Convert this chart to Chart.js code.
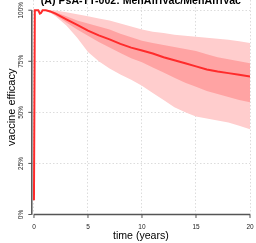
<!DOCTYPE html>
<html lang="en">
<head>
<meta charset="UTF-8">
<title>Vaccine efficacy - PsA-TT-002</title>
<script src="https://cdn.jsdelivr.net/npm/chart.js"></script>
<style>
  html, body { margin: 0; padding: 0; background: #fff; }
  #wrap { position: relative; width: 256px; height: 243px; }
</style>
</head>
<body>
<div id="wrap"><canvas id="chart"></canvas></div>
<script>
// values
const years   = [0, 0.08, 0.4, 0.55, 0.65, 0.8, 1.1, 1.5, 2, 3, 4, 5, 6, 7, 8, 9, 10, 11, 12, 13, 14, 15, 16, 17, 18, 19, 20];
const median  = [7, 100, 100, 98.3, 98.6, 100, 100, 99.4, 98.3, 95.5, 92.8, 90, 87.7, 85.7, 83.5, 81.7, 80.3, 78.8, 77, 75.5, 74, 72.5, 71, 70, 69.2, 68.4, 67.6];
const innerHi = [null, 100, 100, 98.3, 98.6, 100, 100, 99.8, 99, 97, 95, 93.5, 92, 90.5, 88.5, 86.8, 85, 84, 83, 82, 81, 80, 78.5, 77, 76, 75, 74];
const innerLo = [null, 100, 100, 98.3, 98.6, 100, 100, 99, 97.5, 94, 90.5, 87.5, 84.5, 81.8, 79, 76.5, 74.5, 72, 69.5, 67, 64.5, 62.5, 60.5, 59, 57.5, 56, 55];
const outerHi = [null, 100, 100, 98.3, 98.6, 100, 100, 100, 99.8, 99, 98, 97, 96, 95, 93.5, 92, 90.5, 89.5, 88.8, 88, 87.5, 87, 86.5, 86, 85.5, 84.8, 84];
const outerLo = [null, 100, 100, 98.3, 98.6, 100, 100, 98.8, 97, 92.5, 86.5, 79.5, 75, 71.5, 68.5, 66, 63, 59.5, 56, 52.5, 50, 48, 47, 46, 45, 43.5, 41.7];

const xTicks = [0, 5, 10, 15, 20];
const yTicks = [0, 25, 50, 75, 100];
const yTickLabels = ['0%', '25%', '50%', '75%', '100%'];
const chartTitle = '(A) PsA-TT-002: MenAfriVac/MenAfriVac';

function pts(vals) {
    return years.map((t, i) => ({ x: t, y: vals[i] }));
}

// R-style axes: lines only between first and last tick, small tick marks, rotated y labels
const rAxes = {
    id: 'rAxes',
    afterDraw(chart) {
        const { ctx, chartArea, scales: { x, y } } = chart;
        const ax = chartArea.left;
        const ay = chartArea.bottom;
        ctx.save();
        ctx.strokeStyle = '#555';
        ctx.lineWidth = 1.5;
        ctx.beginPath();
        ctx.moveTo(ax, y.getPixelForValue(yTicks[0]));
        ctx.lineTo(ax, y.getPixelForValue(yTicks[yTicks.length - 1]));
        ctx.moveTo(x.getPixelForValue(xTicks[0]), ay);
        ctx.lineTo(x.getPixelForValue(xTicks[xTicks.length - 1]), ay);
        ctx.stroke();

        ctx.lineWidth = 1;
        ctx.beginPath();
        yTicks.forEach(v => {
            const py = y.getPixelForValue(v);
            ctx.moveTo(ax, py);
            ctx.lineTo(ax - 3.5, py);
        });
        xTicks.forEach(v => {
            const px = x.getPixelForValue(v);
            ctx.moveTo(px, ay);
            ctx.lineTo(px, ay + 3.5);
        });
        ctx.stroke();

        ctx.fillStyle = '#222';
        ctx.font = '6.5px "Liberation Sans", Arial, sans-serif';
        ctx.textAlign = 'center';
        ctx.textBaseline = 'middle';
        xTicks.forEach(v => {
            ctx.fillText(String(v), x.getPixelForValue(v), ay + 13);
        });
        yTicks.forEach((v, i) => {
            ctx.save();
            ctx.translate(ax - 11, y.getPixelForValue(v));
            ctx.rotate(-Math.PI / 2);
            ctx.fillText(yTickLabels[i], 0, 0);
            ctx.restore();
        });

        // title sits partly above the canvas in the reference
        ctx.fillStyle = '#000';
        ctx.font = 'bold 10.6px "Liberation Sans", Arial, sans-serif';
        ctx.textBaseline = 'alphabetic';
        ctx.fillText(chartTitle, (chartArea.left + chartArea.right) / 2, 4);
        ctx.restore();
    }
};

const ctx = document.getElementById('chart').getContext('2d');
new Chart(ctx, {
    type: 'line',
    data: {
        datasets: [
            { label: 'outer hi', data: pts(outerHi), fill: '+1', backgroundColor: '#ffcdcd', borderWidth: 0, pointRadius: 0, order: 4 },
            { label: 'outer lo', data: pts(outerLo), fill: false, borderWidth: 0, pointRadius: 0, order: 4 },
            { label: 'inner hi', data: pts(innerHi), fill: '+1', backgroundColor: '#ffa3a3', borderWidth: 0, pointRadius: 0, order: 2 },
            { label: 'inner lo', data: pts(innerLo), fill: false, borderWidth: 0, pointRadius: 0, order: 2 },
            { label: 'median', data: pts(median), fill: false, borderColor: '#ff2b2b', borderWidth: 2, pointRadius: 0, tension: 0, order: 0 }
        ]
    },
    options: {
        responsive: true,
        maintainAspectRatio: false,
        animation: false,
        events: [],
        layout: { padding: { top: 0, left: 5, right: 6, bottom: 0 } },
        plugins: { legend: { display: false }, tooltip: { enabled: false } },
        scales: {
            x: {
                type: 'linear',
                min: -0.2,
                max: 20,
                afterBuildTicks: s => { s.ticks = xTicks.map(v => ({ value: v })); },
                afterFit: s => { s.height = 28.5; },
                ticks: { display: false },
                grid: { color: '#dcdcdc', drawTicks: false },
                border: { display: false, dash: [1.5, 2] },
                title: {
                    display: true,
                    text: 'time (years)',
                    color: '#000',
                    font: { family: '"Liberation Sans", Arial, sans-serif', size: 10.6 },
                    padding: { top: 0, bottom: 1 }
                }
            },
            y: {
                min: 0,
                max: 105,
                afterBuildTicks: s => { s.ticks = yTicks.map(v => ({ value: v })); },
                afterFit: s => { s.width = 26.8; },
                ticks: { display: false },
                grid: { color: '#dcdcdc', drawTicks: false },
                border: { display: false, dash: [1.5, 2] },
                title: {
                    display: true,
                    text: 'vaccine efficacy',
                    color: '#000',
                    font: { family: '"Liberation Sans", Arial, sans-serif', size: 11 },
                    padding: 0
                }
            }
        }
    },
    plugins: [rAxes]
});
</script>
</body>
</html>
